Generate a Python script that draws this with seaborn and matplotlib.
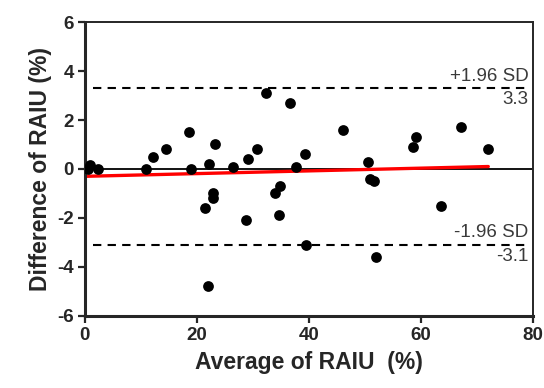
import matplotlib
matplotlib.use('Agg')
import matplotlib.pyplot as plt
import seaborn as sns
import pandas as pd

# ---------- Data ----------
avg_raiu = [0.6, 1.0, 2.4, 11.0, 12.2, 14.4, 18.6, 18.9, 21.4, 22.0,
            22.2, 22.8, 22.8, 23.2, 26.4, 28.7, 29.2, 30.8, 32.3, 34.0,
            34.6, 34.9, 36.6, 37.7, 39.3, 39.5, 46.0, 50.5, 50.9, 51.6,
            52.0, 58.6, 59.1, 63.6, 67.1, 72.0]
diff_raiu = [0.0, 0.15, 0.0, 0.0, 0.5, 0.8, 1.5, 0.0, -1.6, -4.8,
             0.2, -1.0, -1.2, 1.0, 0.1, -2.1, 0.4, 0.8, 3.1, -1.0,
             -1.9, -0.7, 2.7, 0.1, 0.6, -3.1, 1.6, 0.3, -0.4, -0.5,
             -3.6, 0.9, 1.3, -1.5, 1.7, 0.8]

fit_x = [0, 72]
fit_y = [-0.3, 0.1]

upper_loa = 3.3
lower_loa = -3.1

df = pd.DataFrame({'avg': avg_raiu, 'diff': diff_raiu})
fit = pd.DataFrame({'x': fit_x, 'y': fit_y})

# ---------- Plot ----------
sns.set_style('ticks')
plt.rcParams['font.family'] = ['Liberation Sans', 'DejaVu Sans']
plt.rcParams['axes.unicode_minus'] = False

fig = plt.figure(figsize=(5.44, 3.88), dpi=100)
ax = fig.add_axes([0.156, 0.186, 0.824, 0.757])

ax.axhline(0, color='black', lw=1.3, zorder=1)
ax.hlines([upper_loa, lower_loa], 1.5, 79, colors='black', lw=1.5,
          linestyles=(0, (4, 3)), zorder=1)

sns.scatterplot(data=df, x='avg', y='diff', ax=ax, color='black', s=60,
                edgecolor='black', linewidth=0, zorder=3)
sns.lineplot(data=fit, x='x', y='y', ax=ax, color='red', lw=2.4, zorder=2)

# limits of agreement labels
txt = dict(ha='right', fontsize=13.5, color='#3a3a3a')
ax.text(79.2, upper_loa + 0.15, '+1.96 SD', va='bottom', **txt)
ax.text(79.2, upper_loa - 0.12, '3.3', va='top', **txt)
ax.text(79.2, lower_loa + 0.15, '-1.96 SD', va='bottom', **txt)
ax.text(79.2, lower_loa - 0.12, '-3.1', va='top', **txt)

ax.set_xlim(0, 80)
ax.set_ylim(-6, 6)
ax.set_xticks([0, 20, 40, 60, 80])
ax.set_yticks([-6, -4, -2, 0, 2, 4, 6])

for side in ['left', 'bottom']:
    ax.spines[side].set_linewidth(2.2)
for side in ['top', 'right']:
    ax.spines[side].set_linewidth(1.4)

ax.tick_params(axis='both', direction='out', length=5, width=1.6,
               labelsize=13.5, pad=3)
for lbl in ax.get_xticklabels() + ax.get_yticklabels():
    lbl.set_fontweight('bold')

ax.set_xlabel('Average of RAIU  (%)', fontsize=16.5, fontweight='bold', labelpad=5)
ax.set_ylabel('Difference of RAIU (%)', fontsize=16.5, fontweight='bold', labelpad=4)

fig.savefig('out.png', dpi=100)
plt.close(fig)
